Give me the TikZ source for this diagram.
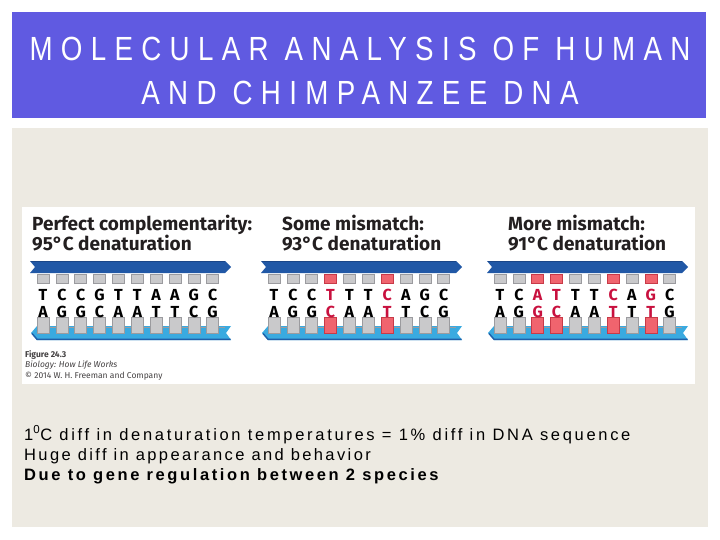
\documentclass[tikz,border=0pt]{standalone}
\usepackage{fontspec}
\usepackage{graphicx}
\setmainfont{Liberation Sans}
\newfontfamily\figfont{Fira Sans}
\definecolor{titlebg}{HTML}{605AE1}
\definecolor{panelbg}{HTML}{EDEAE2}
\definecolor{topblue}{HTML}{2158A6}
\definecolor{topedge}{HTML}{1A4688}
\definecolor{botblue}{HTML}{3AAAE0}
\definecolor{botedge}{HTML}{1F5FA8}
\definecolor{sqgray}{HTML}{C9C9CB}
\definecolor{sqedge}{HTML}{9B9B9F}
\definecolor{sqred}{HTML}{F0646E}
\definecolor{sqrededge}{HTML}{C83A48}
\definecolor{mmred}{HTML}{C8103E}
\definecolor{headtext}{HTML}{231F20}
\tikzset{
  titletext/.style={anchor=base, text=white, inner sep=0,
    font=\fontsize{33.5}{40}\selectfont\addfontfeature{LetterSpace=30}},
  bodytext/.style={anchor=base west, text=black, inner sep=0},
  headstyle/.style={anchor=base west, text=headtext, inner sep=0,
    font=\figfont\bfseries\fontsize{19}{21}\selectfont},
  basestyle/.style={anchor=base, inner sep=0,
    font=\figfont\bfseries\fontsize{16}{16}\selectfont},
  captext/.style={anchor=base west, text=headtext!85, inner sep=0},
}
\newcommand\bodyfont[1]{\fontsize{16.5}{18}\selectfont\addfontfeature{LetterSpace=#1}}
\newcommand\dnapanel[3]{%
\begin{scope}[shift={(#1,0)}]
  \fill[topblue] (0,261) -- (195,261) -- (201,267) -- (195,273) -- (0,273) -- (5,267) -- cycle;
  \draw[topedge, line width=0.8pt] (0.5,261.5) -- (195,261.5);
  \fill[botblue] (1,333) -- (7,326) -- (201,326) -- (196,333) -- (201,340) -- (7,340) -- cycle;
  \draw[botedge, line width=1.4pt] (2,333.5) -- (7,339.3) -- (200.5,339.3);
  \draw[sqedge, line width=0.7pt] (8,327.5) -- (195,327.5);
  \foreach \t/\b/\m [count=\i from 0] in {#3} {
    \pgfmathsetmacro\xx{13+\i*18.85}
    \ifnum\m=1 \def\sqf{sqred}\def\sqd{sqrededge}\def\lc{mmred}\else\def\sqf{sqgray}\def\sqd{sqedge}\def\lc{black}\fi
    \filldraw[fill=\sqf, draw=\sqd, line width=0.6pt] (\xx-6,274) rectangle (\xx+6,283.5);
    \filldraw[fill=\sqf, draw=\sqd, line width=0.6pt] (\xx-6,317.5) rectangle (\xx+6,333);
    \node[basestyle, text=\lc] (#2t\i) at (\xx,300.5) {\t};
    \node[basestyle, text=\lc] (#2b\i) at (\xx,317) {\b};
  }
\end{scope}}
\begin{document}
\begin{tikzpicture}[x=1pt,y=-1pt]
\useasboundingbox (0,0) rectangle (720,540);
\fill[white] (0,0) rectangle (720,540);
\fill[titlebg] (12,12) rectangle (706,118);
\node[titletext] (title1) at (360,61) {\scalebox{0.828}[1]{MOLECULAR ANALYSIS OF HUMAN}};
\node[titletext] (title2) at (360,105) {\scalebox{0.828}[1]{AND CHIMPANZEE DNA}};
\fill[panelbg] (12,128) rectangle (708,527);
\fill[white] (22,207) rectangle (695,384);
% headings
\node[headstyle] (h1a) at (32,230) {Perfect complementarity:};
\node[headstyle] (h1b) at (32,250) {95°C denaturation};
\node[headstyle] (h2a) at (282,230) {Some mismatch:};
\node[headstyle] (h2b) at (282,250) {93°C denaturation};
\node[headstyle] (h3a) at (508,230) {More mismatch:};
\node[headstyle] (h3b) at (508,250) {91°C denaturation};
% strands
\dnapanel{30}{pa}{T/A/0, C/G/0, C/G/0, G/C/0, T/A/0, T/A/0, A/T/0, A/T/0, G/C/0, C/G/0}
\dnapanel{261}{pb}{T/A/0, C/G/0, C/G/0, T/C/1, T/A/0, T/A/0, C/T/1, A/T/0, G/C/0, C/G/0}
\dnapanel{487}{pc}{T/A/0, C/G/0, A/G/1, T/C/1, T/A/0, T/A/0, C/T/1, A/T/0, G/T/1, C/G/0}
% caption
\node[captext, font=\figfont\bfseries\fontsize{8.5}{9}\selectfont] (cap1) at (25,357) {Figure 24.3};
\node[captext, font=\figfont\itshape\fontsize{8.5}{9}\selectfont] (cap2) at (25,367.5) {Biology: How Life Works};
\node[captext, font=\figfont\fontsize{8.5}{9}\selectfont] (cap3) at (25,378) {© 2014 W. H. Freeman and Company};
% body text
\node[bodytext, font=\bodyfont{16.3}] (l1) at (24,440) {1\textsuperscript{0}C diff in denaturation temperatures = 1\% diff in DNA sequence};
\node[bodytext, font=\bodyfont{14.5}] (l2) at (24,460) {Huge diff in appearance and behavior};
\node[bodytext, font=\bfseries\bodyfont{15.8}] (l3) at (24,480) {Due to gene regulation between 2 species};
\end{tikzpicture}
\end{document}
